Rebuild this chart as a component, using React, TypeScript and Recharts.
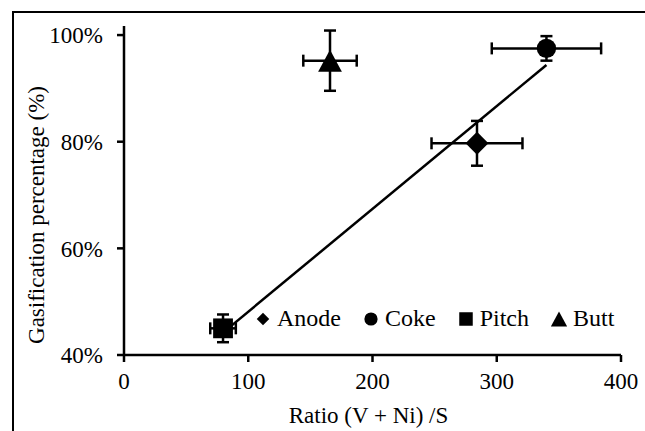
import { ScatterChart, Scatter, XAxis, YAxis, ErrorBar, Legend, Label } from 'recharts';

const seriesNames = ['Anode', 'Coke', 'Pitch', 'Butt'];
const ratioX = [284.1, 340.0, 79.7, 165.8];
const gasY = [79.7, 97.5, 45.0, 95.2];
const ratioErr = [36.6, 44.0, 10.3, 21.5];
const gasErr = [4.2, 2.3, 2.6, 5.65];
const trendX = [79.7, 340.0];
const trendY = [44.2, 94.4];
const xTicks = [0, 100, 200, 300, 400];
const yTicks = [40, 60, 80, 100];

const FONT = '"Liberation Serif", "Times New Roman", serif';
const INK = '#000';

const series = seriesNames.map((name, i) => ({
  name,
  data: [{ x: ratioX[i], y: gasY[i], ex: ratioErr[i], ey: gasErr[i] }],
}));
const trend = trendX.map((x, i) => ({ x, y: trendY[i] }));

// marker glyphs, plot size and legend size
function glyph(name: string, cx: number, cy: number, s: number) {
  if (name === 'Coke') return <circle cx={cx} cy={cy} r={s * 0.44} fill={INK} />;
  if (name === 'Pitch') {
    const h = s * 0.45;
    return <rect x={cx - h} y={cy - h} width={h * 2} height={h * 2} fill={INK} />;
  }
  if (name === 'Butt') {
    const w = s * 0.54;
    const h = s * 0.5;
    return <path d={`M${cx},${cy - h}L${cx + w},${cy + h}L${cx - w},${cy + h}Z`} fill={INK} />;
  }
  const r = s * 0.52;
  return <path d={`M${cx},${cy - r}L${cx + r},${cy}L${cx},${cy + r}L${cx - r},${cy}Z`} fill={INK} />;
}

const legendIcons: Record<string, number> = { Anode: 12, Coke: 15, Pitch: 15, Butt: 15 };

function renderLegend() {
  return (
    <div style={{ display: 'flex', alignItems: 'center', fontFamily: FONT, fontSize: 24, color: INK, whiteSpace: 'nowrap' }}>
      {seriesNames.map((name) => (
        <span key={name} style={{ display: 'flex', alignItems: 'center', marginRight: 22 }}>
          <svg width={16} height={16} style={{ marginRight: 6 }}>
            {glyph(name, 8, 8, legendIcons[name])}
          </svg>
          {name}
        </span>
      ))}
    </div>
  );
}

export default function App() {
  return (
    <div style={{ position: 'absolute', left: 0, top: 0, width: 645, height: 431, overflow: 'hidden', background: '#fff' }}>
      <div style={{ position: 'absolute', left: 12, top: 11, width: 700, height: 500, border: '2px solid #000' }} />
      <div style={{ position: 'absolute', left: 0, top: 0 }}>
        <ScatterChart width={645} height={431} margin={{ top: 26, right: 24, bottom: 16, left: 24 }}>
          <XAxis
            type="number"
            dataKey="x"
            domain={[0, 400]}
            ticks={xTicks}
            height={60}
            stroke={INK}
            strokeWidth={2.5}
            tickSize={7}
            tickMargin={11}
            tick={{ fill: INK, fontSize: 23, fontFamily: FONT }}
          >
            <Label
              content={({ viewBox }: any) => (
                <text
                  x={viewBox.x + viewBox.width / 2 - 4}
                  y={415}
                  dy="0.35em"
                  textAnchor="middle"
                  fontFamily={FONT}
                  fontSize={23}
                  fill={INK}
                >
                  Ratio (V + Ni) /S
                </text>
              )}
            />
          </XAxis>
          <YAxis
            type="number"
            dataKey="y"
            domain={[40, 101.7]}
            ticks={yTicks}
            width={100}
            stroke={INK}
            strokeWidth={2.5}
            tickSize={7}
            tickMargin={14}
            tickFormatter={(v: number) => `${v}%`}
            tick={{ fill: INK, fontSize: 23, fontFamily: FONT }}
          >
            <Label
              content={() => (
                <text
                  x={36}
                  y={215}
                  dy="0.35em"
                  transform="rotate(-90, 36, 215)"
                  textAnchor="middle"
                  fontFamily={FONT}
                  fontSize={23}
                  fill={INK}
                >
                  Gasification percentage (%)
                </text>
              )}
            />
          </YAxis>
          <Legend
            content={renderLegend}
            layout="horizontal"
            align="center"
            verticalAlign="middle"
            wrapperStyle={{ top: 305, left: 255, width: 'auto' }}
          />
          <Scatter
            name="trend"
            data={trend}
            line={{ stroke: INK, strokeWidth: 2.5 }}
            shape={() => <g />}
            legendType="none"
            isAnimationActive={false}
          />
          {series.map((s) => (
            <Scatter
              key={s.name}
              name={s.name}
              data={s.data}
              fill={INK}
              isAnimationActive={false}
              shape={(p: any) => glyph(s.name, p.cx, p.cy, 22)}
            >
              <ErrorBar dataKey="ey" direction="y" width={6} stroke={INK} strokeWidth={2.5} isAnimationActive={false} />
              <ErrorBar dataKey="ex" direction="x" width={6} stroke={INK} strokeWidth={2.5} isAnimationActive={false} />
            </Scatter>
          ))}
        </ScatterChart>
      </div>
    </div>
  );
}
